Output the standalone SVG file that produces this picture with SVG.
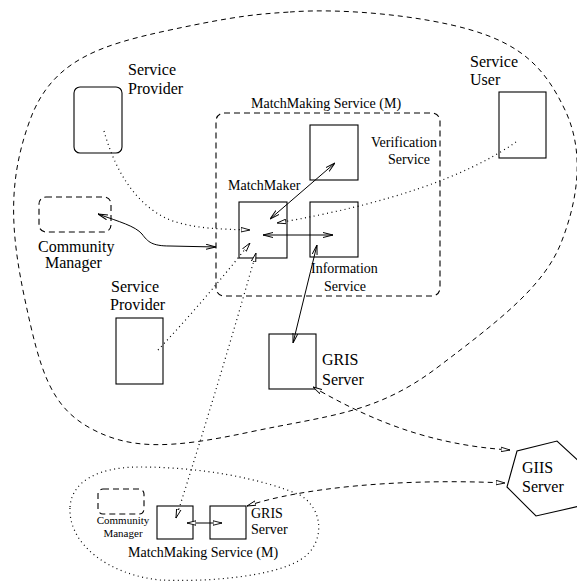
<svg xmlns="http://www.w3.org/2000/svg" width="577" height="582" viewBox="0 0 577 582">
<style>
text{font-family:"Liberation Serif","Times New Roman",serif;fill:#000}
.f16{font-size:16px}.f14{font-size:14px}.f11{font-size:11px}
.box{fill:none;stroke:#000;stroke-width:1.1}
.dbox{fill:none;stroke:#000;stroke-width:1.1;stroke-dasharray:6 4}
.solid{fill:none;stroke:#000;stroke-width:1}
.dot{fill:none;stroke:#000;stroke-width:1.2;stroke-dasharray:1 3.5}
.dash{fill:none;stroke:#000;stroke-width:1;stroke-dasharray:5 4}
</style>
<defs>
<marker id="v" viewBox="0 0 10 6" refX="10" refY="3" markerWidth="10" markerHeight="6" markerUnits="userSpaceOnUse" orient="auto-start-reverse"><path d="M0,0.5 L10,3 L0,5.5" fill="none" stroke="#000" stroke-width="1"/></marker>
<marker id="t" viewBox="0 0 10 6" refX="10" refY="3" markerWidth="9" markerHeight="6" markerUnits="userSpaceOnUse" orient="auto-start-reverse"><path d="M0,0.5 L10,3 L0,5.5 Z" fill="#fff" stroke="#000" stroke-width="1"/></marker>
</defs>

<g id="domain">
<path class="dash" d="M290,12 C340,8 420,15 471,30 S545,68 565,110 S578,200 561,243 S500,320 438,367 S330,415 250,432 S130,450 90,428 S40,370 25,300 S8,180 30,120 S100,45 170,30 S260,14 290,12 Z"/>
</g>
<g id="remote-domain">
<path class="dot" d="M70,507 C72,480 100,467 140,467 C200,467 260,478 300,495 C325,510 325,545 300,560 C270,578 200,582 160,580 C110,575 68,545 70,507 Z"/>
</g>

<g id="service-provider-1">
<rect class="box" x="74" y="87" width="48" height="66" rx="6"/>
<text class="f16" x="128" y="75">Service</text>
<text class="f16" x="128" y="94">Provider</text>
</g>
<g id="service-user">
<rect class="box" x="499" y="92" width="47" height="66"/>
<text class="f16" x="470" y="67">Service</text>
<text class="f16" x="470" y="85">User</text>
</g>
<g id="community-manager">
<rect class="dbox" x="39" y="197" width="72" height="35" rx="7"/>
<text class="f16" x="38" y="252">Community</text>
<text class="f16" x="45" y="268">Manager</text>
</g>
<g id="matchmaking-service">
<rect class="dbox" x="216" y="113" width="224" height="183" rx="8"/>
<text class="f14" x="251" y="108">MatchMaking Service (M)</text>
</g>
<g id="matchmaker">
<rect class="box" x="239" y="202" width="48" height="56"/>
<text class="f14" x="228" y="190">MatchMaker</text>
</g>
<g id="verification-service">
<rect class="box" x="310" y="125" width="48" height="55"/>
<text class="f14" x="371" y="147">Verification</text>
<text class="f14" x="388" y="164">Service</text>
</g>
<g id="information-service">
<rect class="box" x="310" y="202" width="48" height="55"/>
<text class="f14" x="311" y="273">Information</text>
<text class="f14" x="324" y="291">Service</text>
</g>
<g id="service-provider-2">
<rect class="box" x="116" y="318" width="47" height="66"/>
<text class="f16" x="111" y="292">Service</text>
<text class="f16" x="110" y="310">Provider</text>
</g>
<g id="gris-server">
<rect class="box" x="269" y="334" width="47" height="55"/>
<text class="f16" x="322" y="365">GRIS</text>
<text class="f16" x="322" y="385">Server</text>
</g>
<g id="giis-server">
<polygon class="box" points="507,487 517,451 557,441 586,468 580,506 536,516"/>
<text class="f16" x="522" y="473">GIIS</text>
<text class="f16" x="522" y="492">Server</text>
</g>
<g id="remote-community-manager">
<rect class="dbox" x="98" y="489" width="46" height="25" rx="5"/>
<text class="f11" x="123" y="524" text-anchor="middle">Community</text>
<text class="f11" x="123" y="537" text-anchor="middle">Manager</text>
</g>
<g id="remote-matchmaker">
<rect class="box" x="157" y="506" width="36" height="33"/>
</g>
<g id="remote-gris-server">
<rect class="box" x="210" y="506" width="36" height="33"/>
<text class="f14" x="251" y="518">GRIS</text>
<text class="f14" x="251" y="534">Server</text>
</g>
<g id="remote-matchmaking-label">
<text class="f14" x="128" y="557">MatchMaking Service (M)</text>
</g>

<g id="connectors">
<path class="solid" d="M98,214 C120,222 135,226 142,234 C148,242 152,246 170,246 L216,247" marker-start="url(#v)" marker-end="url(#v)"/>
<path class="solid" d="M270,219 L335,163" marker-start="url(#v)" marker-end="url(#v)"/>
<path class="solid" d="M263,235 L333,235" marker-start="url(#v)" marker-end="url(#v)"/>
<path class="solid" d="M317,245 L293,343" marker-start="url(#v)" marker-end="url(#v)"/>
<path class="solid" d="M187,523 L222,523" marker-start="url(#t)" marker-end="url(#t)"/>
<path class="dot" d="M104,131 C115,170 135,205 170,220 C195,229 220,229 250,230" marker-end="url(#t)"/>
<path class="dot" d="M516,142 Q440,195 277,223" marker-end="url(#t)"/>
<path class="dot" d="M158,350 Q205,300 250,243" marker-end="url(#t)"/>
<path class="dot" d="M176,518 Q220,380 256,253" marker-start="url(#t)" marker-end="url(#t)"/>
<path class="dash" d="M313,387 C370,420 430,445 510,450" marker-start="url(#t)" marker-end="url(#t)"/>
<path class="dash" d="M247,506 C300,488 400,478 505,483" marker-start="url(#t)" marker-end="url(#t)"/>
</g>
</svg>
